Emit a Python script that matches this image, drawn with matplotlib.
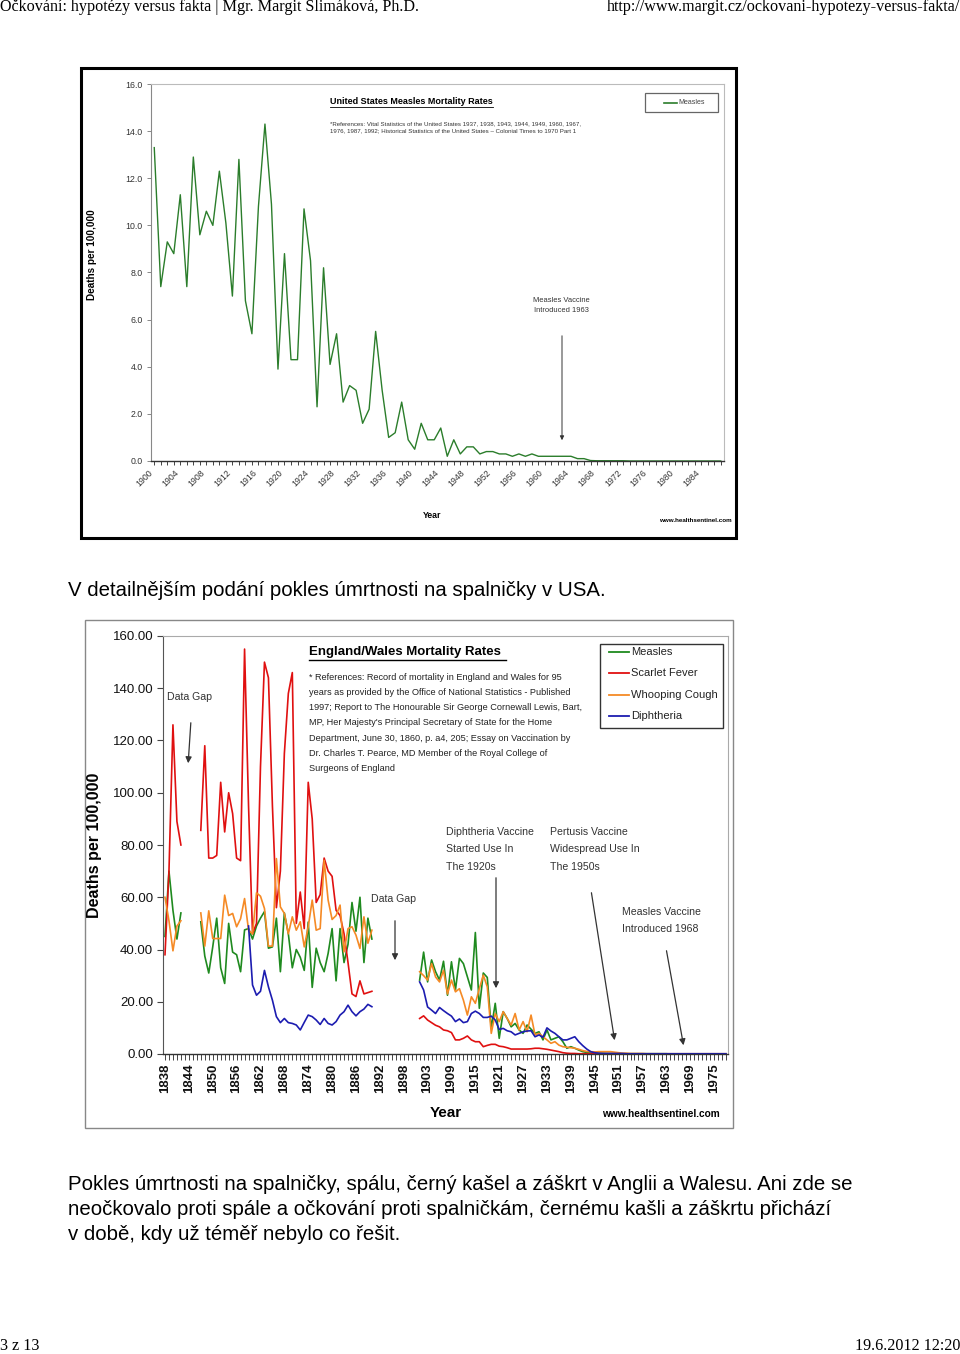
import numpy as np
import matplotlib
matplotlib.use("Agg")
import matplotlib.pyplot as plt
from matplotlib import font_manager
from matplotlib.patches import Rectangle, FancyArrowPatch
from matplotlib.lines import Line2D

W, H = 960, 1354

installed = {f.name for f in font_manager.fontManager.ttflist}
NARROW = 'Liberation Sans Narrow' if 'Liberation Sans Narrow' in installed else 'Liberation Sans'
K = 1.0 if NARROW == 'Liberation Sans Narrow' else 0.84   # shrink if no narrow face
plt.rcParams['font.family'] = ['Liberation Sans', 'DejaVu Sans']

# ---------------- US measles (1900-1987) ----------------
us_years = list(range(1900, 1988))
us_measles = [13.3, 7.4, 9.3, 8.8, 11.3, 7.4, 12.9, 9.6, 10.6, 10.0,
              12.3, 10.1, 7.0, 12.8, 6.8, 5.4, 10.8, 14.3, 10.9, 3.9,
              8.8, 4.3, 4.3, 10.7, 8.5, 2.3, 8.2, 4.1, 5.4, 2.5,
              3.2, 3.0, 1.6, 2.2, 5.5, 3.0, 1.0, 1.2, 2.5, 0.9,
              0.5, 1.6, 0.9, 0.9, 1.4, 0.2, 0.9, 0.3, 0.6, 0.6,
              0.3, 0.4, 0.4, 0.3, 0.3, 0.2, 0.3, 0.2, 0.3, 0.2,
              0.2, 0.2, 0.2, 0.2, 0.2, 0.1, 0.1, 0.02, 0.01, 0.01,
              0.01, 0.01, 0.01, 0.0, 0.0, 0.0, 0.0, 0.0, 0.0, 0.0,
              0.0, 0.0, 0.0, 0.0, 0.0, 0.0, 0.0, 0.0]
us_tick_labels = ['1900', '1904', '1908', '1912', '1916', '1920', '1924', '1928', '1932',
                  '1936', '1940', '1944', '1948', '1952', '1956', '1960', '1964', '1968',
                  '1972', '1976', '1980', '1984']

# ---------------- England/Wales (category axis, 142 slots) ----------------
ew_tick_labels = ['1838', '1844', '1850', '1856', '1862', '1868', '1874', '1880', '1886',
                  '1892', '1898', '1903', '1909', '1915', '1921', '1927', '1933', '1939',
                  '1945', '1951', '1957', '1963', '1969', '1975']

# measles
ew_measles_a = [45, 70, 55, 44, 54]                       # from 1838
ew_measles_b = [50.6, 37.5, 31, 41, 52, 33, 27, 50, 39, 38,
                31.5, 47.5, 48, 44, 49, 52, 54.5, 40.5, 41, 52,
                31.5, 54, 46, 33, 40, 37, 32, 50.5, 25.5, 40.5,
                35, 31.5, 38.5, 48, 28, 48, 35, 42, 58, 47,
                60, 35, 52, 44]                            # from 1847
ew_measles_c = [28.3, 39.0, 27.6, 36.0, 31.5, 28.3, 35.5, 22.5, 35.3, 24.5,
                36.6, 34.6, 29.5, 24.5, 46.5, 17.5, 31.0, 29.3, 9.8, 19.4,
                6.0, 16.2, 13.6, 10.4, 11.7, 9.2, 7.9, 11.1, 9.5, 7.9,
                8.5, 5.4, 9.2, 5.4, 6.0, 6.6, 4.7, 2.2, 2.8, 2.2,
                1.5, 0.9, 0.6, 0.5, 0.3, 0.3, 0.3, 0.2, 0.2, 0.2,
                0.2, 0.1, 0.1, 0.1, 0.1, 0.1, 0.1, 0.1, 0.1, 0.1,
                0.1, 0.1, 0.1, 0.0, 0.0, 0.0, 0.0, 0.0, 0.0, 0.0,
                0.0, 0.0, 0.0, 0.0, 0.0, 0.0, 0.0, 0.0]         # from 1901
# scarlet fever
ew_scarlet_a = [38, 70, 126, 89, 80]
ew_scarlet_b = [85.6, 118, 75, 75, 76, 104, 85, 100, 92, 75,
                74, 155, 95, 46, 50, 110, 150, 144, 95, 56,
                70, 115, 138, 146, 50, 62, 48, 104, 90, 58,
                61, 75, 70, 68, 55, 53, 46, 35, 23, 22,
                28, 23, 23.5, 24]
ew_scarlet_c = [13.6, 14.6, 13.0, 12.0, 11.0, 10.4, 9.2, 8.9, 8.2, 5.4,
                5.4, 6.0, 6.9, 5.4, 4.7, 4.7, 2.8, 3.3, 3.7, 3.7,
                3.0, 2.8, 2.4, 1.9, 1.9, 1.9, 1.9, 1.9, 2.0, 2.2,
                2.2, 2.0, 1.8, 1.5, 1.2, 0.9, 0.5, 0.3, 0.2, 0.2,
                0.1, 0.1, 0.1, 0.1, 0.1, 0.1, 0.1, 0.1, 0.1, 0.1,
                0.1, 0.1, 0.1, 0.0, 0.0, 0.0, 0.0, 0.0, 0.0, 0.0,
                0.0, 0.0, 0.0, 0.0, 0.0, 0.0, 0.0, 0.0, 0.0, 0.0,
                0.0, 0.0, 0.0, 0.0, 0.0, 0.0, 0.0, 0.0]
# whooping cough
ew_whooping_a = [60, 51, 39.5, 49, 51]
ew_whooping_b = [54, 41.3, 54.8, 44.2, 44.2, 44.2, 60.8, 53, 53.8, 48.7,
                 51.8, 59.5, 47.4, 46, 61.7, 60.4, 55.7, 41.3, 41.3, 74.8,
                 56.3, 53.8, 46, 52.5, 47.4, 50.6, 41, 48.7, 58.9, 47.4,
                 48, 74.1, 58.9, 51.5, 53, 57, 39.1, 48, 48.7, 45.5,
                 40.4, 52.5, 42.4, 47.4]
ew_whooping_c = [31.5, 30.0, 28.3, 34.6, 29.5, 27.6, 32.0, 23.0, 28.3, 23.8,
                 25.0, 20.6, 14.9, 21.9, 19.4, 25.0, 30.2, 25.7, 7.9, 15.5,
                 12.4, 16.2, 13.6, 11.1, 15.5, 9.2, 12.4, 8.5, 14.9, 7.3,
                 7.9, 6.6, 5.4, 4.1, 4.7, 3.4, 2.8, 2.6, 2.4, 2.2,
                 1.8, 1.3, 1.0, 0.9, 0.8, 0.9, 0.9, 0.9, 0.9, 0.7,
                 0.5, 0.3, 0.3, 0.2, 0.2, 0.2, 0.2, 0.1, 0.1, 0.1,
                 0.1, 0.1, 0.1, 0.1, 0.1, 0.1, 0.1, 0.1, 0.1, 0.1,
                 0.1, 0.1, 0.1, 0.1, 0.1, 0.1, 0.1, 0.1]
# diphtheria
ew_diphtheria_b = [49, 26.4, 22.5, 24, 32, 25.7, 20.6, 14.3, 12, 13.6,
                   12, 11.7, 11.1, 9.2, 12.1, 14.9, 14.3, 13, 11.3, 13.6,
                   11.7, 11.1, 12.4, 14.9, 16.2, 18.7, 16.2, 14.6, 16.2, 17.2,
                   19, 18.1]                                 # from 1859
ew_diphtheria_c = [27.6, 24.5, 18.0, 16.8, 15.5, 17.8, 16.6, 15.5, 14.5, 12.4,
                   13.4, 12.0, 12.4, 15.5, 16.4, 15.5, 14.0, 14.0, 14.5, 13.0,
                   9.4, 9.8, 8.9, 8.5, 7.3, 7.9, 8.5, 8.8, 8.9, 6.6,
                   7.3, 6.4, 10.0, 8.8, 7.9, 6.6, 5.4, 5.4, 6.0, 6.6,
                   4.7, 3.2, 1.9, 0.9, 0.5, 0.3, 0.2, 0.2, 0.2, 0.2,
                   0.2, 0.2, 0.1, 0.1, 0.1, 0.1, 0.1, 0.1, 0.1, 0.1,
                   0.1, 0.1, 0.1, 0.1, 0.1, 0.1, 0.1, 0.1, 0.1, 0.1,
                   0.1, 0.1, 0.1, 0.1, 0.1, 0.1, 0.1, 0.1]

N_EW = 142


def ew_slot(year):
    # the source axis repeats one slot around 1898/1899
    return year - 1838 if year <= 1898 else year - 1837


def build(parts):
    arr = np.full(N_EW, np.nan)
    for year, vals in parts:
        s = ew_slot(year)
        arr[s:s + len(vals)] = vals
    return arr


measles = build([(1838, ew_measles_a), (1847, ew_measles_b), (1901, ew_measles_c)])
scarlet = build([(1838, ew_scarlet_a), (1847, ew_scarlet_b), (1901, ew_scarlet_c)])
whooping = build([(1838, ew_whooping_a), (1847, ew_whooping_b), (1901, ew_whooping_c)])
diphtheria = build([(1859, ew_diphtheria_b), (1901, ew_diphtheria_c)])


def fx(x):
    return x / W


def fy(y):
    return 1 - y / H


fig = plt.figure(figsize=(9.6, 13.54), dpi=100)


def ftext(x, y, s, **kw):
    fig.text(fx(x), fy(y), s, **kw)


def farrow(x0, y0, x1, y1, color='#333333', lw=0.9, ms=9):
    fig.add_artist(FancyArrowPatch((fx(x0), fy(y0)), (fx(x1), fy(y1)),
                                   transform=fig.transFigure, arrowstyle='-|>',
                                   mutation_scale=ms, lw=lw, color=color))


def fline(x0, y0, x1, y1, color='k', lw=1.0):
    fig.add_artist(Line2D([fx(x0), fx(x1)], [fy(y0), fy(y1)],
                          transform=fig.transFigure, color=color, lw=lw))


def fbox(x0, y0, x1, y1, ec='k', lw=1.0):
    fig.add_artist(Rectangle((fx(x0), fy(y1)), fx(x1) - fx(x0), fy(y0) - fy(y1),
                             transform=fig.transFigure, fill=False, ec=ec, lw=lw))


# ---------------- page header / footer ----------------
serif = ['Liberation Serif', 'DejaVu Serif']
ftext(0, 7, 'Očkování: hypotézy versus fakta | Mgr. Margit Slimáková, Ph.D.',
      family=serif, fontsize=11.6, va='center', ha='left')
ftext(960, 7, 'http://www.margit.cz/ockovani-hypotezy-versus-fakta/',
      family=serif, fontsize=11.6, va='center', ha='right')
ftext(0, 1346, '3 z 13', family=serif, fontsize=11.6, va='center', ha='left')
ftext(960, 1346, '19.6.2012 12:20', family=serif, fontsize=11.6, va='center', ha='right')

ftext(68, 591, 'V detailnějším podání pokles úmrtnosti na spalničky v USA.',
      fontsize=14.65, va='center', ha='left')
para = ['Pokles úmrtnosti na spalničky, spálu, černý kašel a záškrt v Anglii a Walesu. Ani zde se',
        'neočkovalo proti spále a očkování proti spalničkám, černému kašli a záškrtu přichází',
        'v době, kdy už téměř nebylo co řešit.']
for k, line in enumerate(para):
    ftext(68, 1185 + 24.5 * k, line, fontsize=14.65, va='center', ha='left')

# ---------------- top chart ----------------
fbox(81, 68, 736, 538, ec='k', lw=2.2)
ax1 = fig.add_axes([fx(151), fy(461), fx(724) - fx(151), fy(84) - fy(461)])
x1 = np.arange(len(us_years))
ax1.plot(x1, us_measles, color='#2b7d2b', lw=1.0)
ax1.set_xlim(-0.5, len(us_years) - 0.5)
ax1.set_ylim(0, 16)
yt = np.arange(0, 16.1, 2)
ax1.set_yticks(yt)
ax1.set_yticklabels([f'{v:.1f}' for v in yt], fontsize=6.3, color='#333333')
ax1.set_xticks(x1, minor=True)
ax1.set_xticks(x1[::4])
ax1.set_xticklabels(us_tick_labels, rotation=45, ha='right', va='top',
                    fontsize=6.3, color='#333333')
ax1.tick_params(axis='x', which='both', direction='out', length=3, width=0.7,
                color='#444444', pad=2)
ax1.tick_params(axis='y', direction='out', length=3, width=0.7, color='#888888', pad=3)
for s in ['top', 'right']:
    ax1.spines[s].set_color('#bbbbbb')
    ax1.spines[s].set_linewidth(0.8)
ax1.spines['left'].set_color('#888888')
ax1.spines['bottom'].set_color('#333333')
ax1.spines['bottom'].set_linewidth(1.0)

ftext(330, 101, 'United States Measles Mortality Rates', fontsize=6.5,
      fontweight='bold', va='center', ha='left')
fline(330, 106.5, 493, 106.5, lw=0.6)
ftext(330, 124, '*References: Vital Statistics of the United States 1937, 1938, 1943, 1944, 1949, 1960, 1967,',
      fontsize=4.4, va='center', ha='left', color='#333333')
ftext(330, 131, '1976, 1987, 1992; Historical Statistics of the United States \u2013 Colonial Times to 1970 Part 1',
      fontsize=4.4, va='center', ha='left', color='#333333')
fbox(645, 93, 718, 112, ec='#666666', lw=0.9)
fline(664, 103, 677, 103, color='#2b7d2b', lw=1.2)
ftext(678, 103, 'Measles', fontsize=5, va='center', ha='left', color='#444444')
ftext(561, 301, 'Measles Vaccine', fontsize=5.4, va='center', ha='center', color='#333333')
ftext(561, 311, 'Introduced 1963', fontsize=5.4, va='center', ha='center', color='#333333')
farrow(562, 333, 562, 443, lw=0.7, ms=6)
ftext(92, 255, 'Deaths per 100,000', fontsize=7.2, fontweight='bold',
      rotation=90, va='center', ha='center')
ftext(432, 515, 'Year', fontsize=6.3, fontweight='bold', va='center', ha='center')
ftext(732, 520, 'www.healthsentinel.com', fontsize=4.5, fontweight='bold',
      va='center', ha='right')

# ---------------- bottom chart ----------------
fbox(85, 620, 733, 1128, ec='#888888', lw=1.0)
ax2 = fig.add_axes([fx(163), fy(1054), fx(728) - fx(163), fy(636) - fy(1054)])
x2 = np.arange(N_EW)
ax2.plot(x2, measles, color='#1f8a1f', lw=1.2, label='Measles')
ax2.plot(x2, scarlet, color='#e01010', lw=1.2, label='Scarlet Fever')
ax2.plot(x2, whooping, color='#f58a25', lw=1.2, label='Whooping Cough')
ax2.plot(x2, diphtheria, color='#1c1cb0', lw=1.2, label='Diphtheria')
ax2.set_xlim(-0.5, N_EW - 0.5)
ax2.set_ylim(0, 160)
yt2 = np.arange(0, 161, 20)
ax2.set_yticks(yt2)
ax2.set_yticklabels([f'{v:.2f}' for v in yt2], fontsize=9.5, color='#111111')
ax2.set_xticks(x2, minor=True)
ax2.set_xticks(x2[::6][:len(ew_tick_labels)])
ax2.set_xticklabels(ew_tick_labels, rotation=90, fontsize=9.5, fontweight='bold',
                    color='#111111')
ax2.tick_params(axis='x', which='both', direction='out', length=4, width=0.7,
                color='#444444', pad=3)
ax2.tick_params(axis='y', direction='out', length=4, width=0.8, color='#444444', pad=3)
for s in ['top', 'right']:
    ax2.spines[s].set_color('#aaaaaa')
    ax2.spines[s].set_linewidth(0.8)
ax2.spines['left'].set_color('#555555')
ax2.spines['bottom'].set_color('#333333')
ax2.spines['bottom'].set_linewidth(1.0)

ftext(95, 845, 'Deaths per 100,000', fontsize=11.5, fontweight='bold',
      rotation=90, va='center', ha='center')
ftext(309, 652, 'England/Wales Mortality Rates', family=[NARROW, 'DejaVu Sans'],
      fontsize=11.4 * K, fontweight='bold', va='center', ha='left')
fline(309, 660, 506, 660, lw=1.0)
refs = ['* References: Record of mortality in England and Wales for 95',
        'years as provided by the Office of National Statistics - Published',
        '1997; Report to The Honourable Sir George Cornewall Lewis, Bart,',
        "MP, Her Majesty's Principal Secretary of State for the Home",
        'Department, June 30, 1860, p. a4, 205; Essay on Vaccination by',
        'Dr. Charles T. Pearce, MD Member of the Royal College of',
        'Surgeons of England']
for k, line in enumerate(refs):
    ftext(309, 677 + 15.3 * k, line, family=[NARROW, 'DejaVu Sans'], fontsize=7.8 * K,
          va='center', ha='left', color='#222222')

# legend box
fbox(600, 644, 723, 728, ec='#333333', lw=1.0)
leg_colors = ['#1f8a1f', '#e01010', '#f58a25', '#1c1cb0']
leg_names = ['Measles', 'Scarlet Fever', 'Whooping Cough', 'Diphtheria']
for k, (c, n) in enumerate(zip(leg_colors, leg_names)):
    yy = 652 + 21.3 * k
    fline(609, yy, 629, yy, color=c, lw=1.3)
    ftext(631, yy, n, family=[NARROW, 'DejaVu Sans'], fontsize=9.5 * K,
          va='center', ha='left', color='#222222')

ann_font = dict(family=[NARROW, 'DejaVu Sans'], fontsize=9 * K, va='center',
                ha='left', color='#333333')
ftext(167, 697, 'Data Gap', **ann_font)
farrow(191, 720, 188, 766)
ftext(371, 899, 'Data Gap', **ann_font)
farrow(395, 918, 395, 963)
for k, line in enumerate(['Diphtheria Vaccine', 'Started Use In', 'The 1920s']):
    ftext(446, 832 + 17.5 * k, line, **ann_font)
farrow(496, 875, 496, 991)
for k, line in enumerate(['Pertusis Vaccine', 'Widespread Use In', 'The 1950s']):
    ftext(550, 832 + 17.5 * k, line, **ann_font)
farrow(591, 890, 615, 1043)
for k, line in enumerate(['Measles Vaccine', 'Introduced 1968']):
    ftext(622, 912 + 17.5 * k, line, **ann_font)
farrow(666, 948, 684, 1048)
ftext(446, 1113, 'Year', fontsize=11, fontweight='bold', va='center', ha='center')
ftext(720, 1114, 'www.healthsentinel.com', fontsize=7.3, fontweight='bold',
      va='center', ha='right')

fig.savefig('out.png', dpi=100)
